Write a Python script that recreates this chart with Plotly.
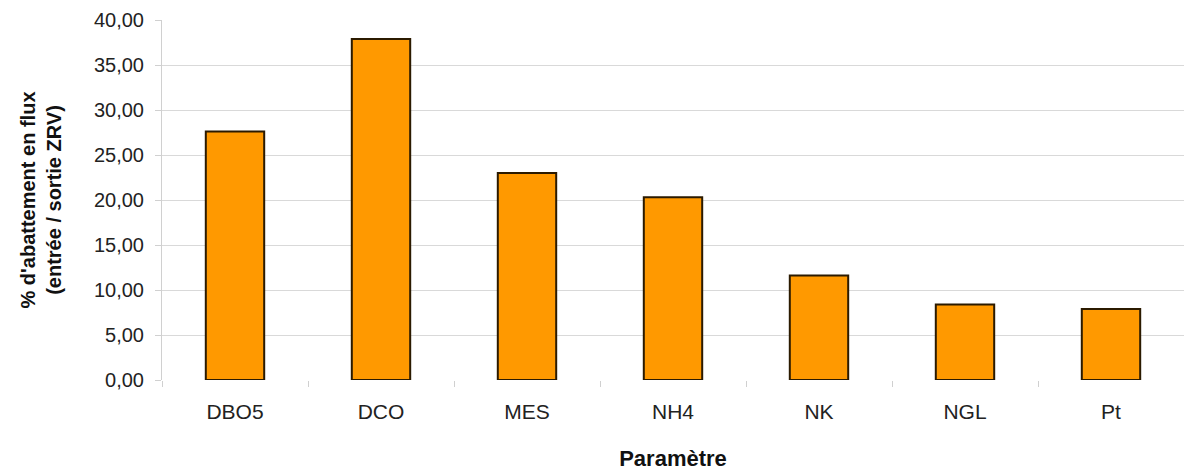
import plotly.graph_objects as go

categories = ["DBO5", "DCO", "MES", "NH4", "NK", "NGL", "Pt"]
values = [27.6, 37.9, 23.0, 20.3, 11.6, 8.4, 7.9]
y_ticks = [0, 5, 10, 15, 20, 25, 30, 35, 40]

fig = go.Figure(
    go.Bar(
        x=categories,
        y=values,
        marker=dict(color="#FF9900", line=dict(color="#2b1a00", width=2)),
        width=0.4,
    )
)

fig.update_layout(
    width=1184,
    height=473,
    margin=dict(l=162, r=0, t=20, b=93),
    paper_bgcolor="white",
    plot_bgcolor="white",
    separators=", ",
    font=dict(family="Liberation Sans, Arial, sans-serif", color="#222222"),
    showlegend=False,
)

fig.update_xaxes(
    title=dict(text="<b>Paramètre</b>", font=dict(size=22, color="#111111"), standoff=28),
    tickfont=dict(size=21, color="#222222"),
    showline=False,
    ticks="outside",
    tickson="boundaries",
    ticklen=6,
    tickcolor="#d0d0d0",
    ticklabelstandoff=17,
    showgrid=False,
)

fig.update_yaxes(
    title=dict(text="<b>% d'abattement en flux<br>(entrée / sortie ZRV)</b>", font=dict(size=20, color="#111111"), standoff=26),
    range=[0, 40],
    tickvals=y_ticks,
    tickformat=".2f",
    tickfont=dict(size=20, color="#222222"),
    showgrid=True,
    gridcolor="#d9d9d9",
    gridwidth=1,
    showline=True,
    linecolor="#d0d0d0",
    ticks="outside",
    ticklen=6,
    tickcolor="#d0d0d0",
    ticklabelstandoff=7,
    zeroline=False,
)

fig.write_html("out.html")
